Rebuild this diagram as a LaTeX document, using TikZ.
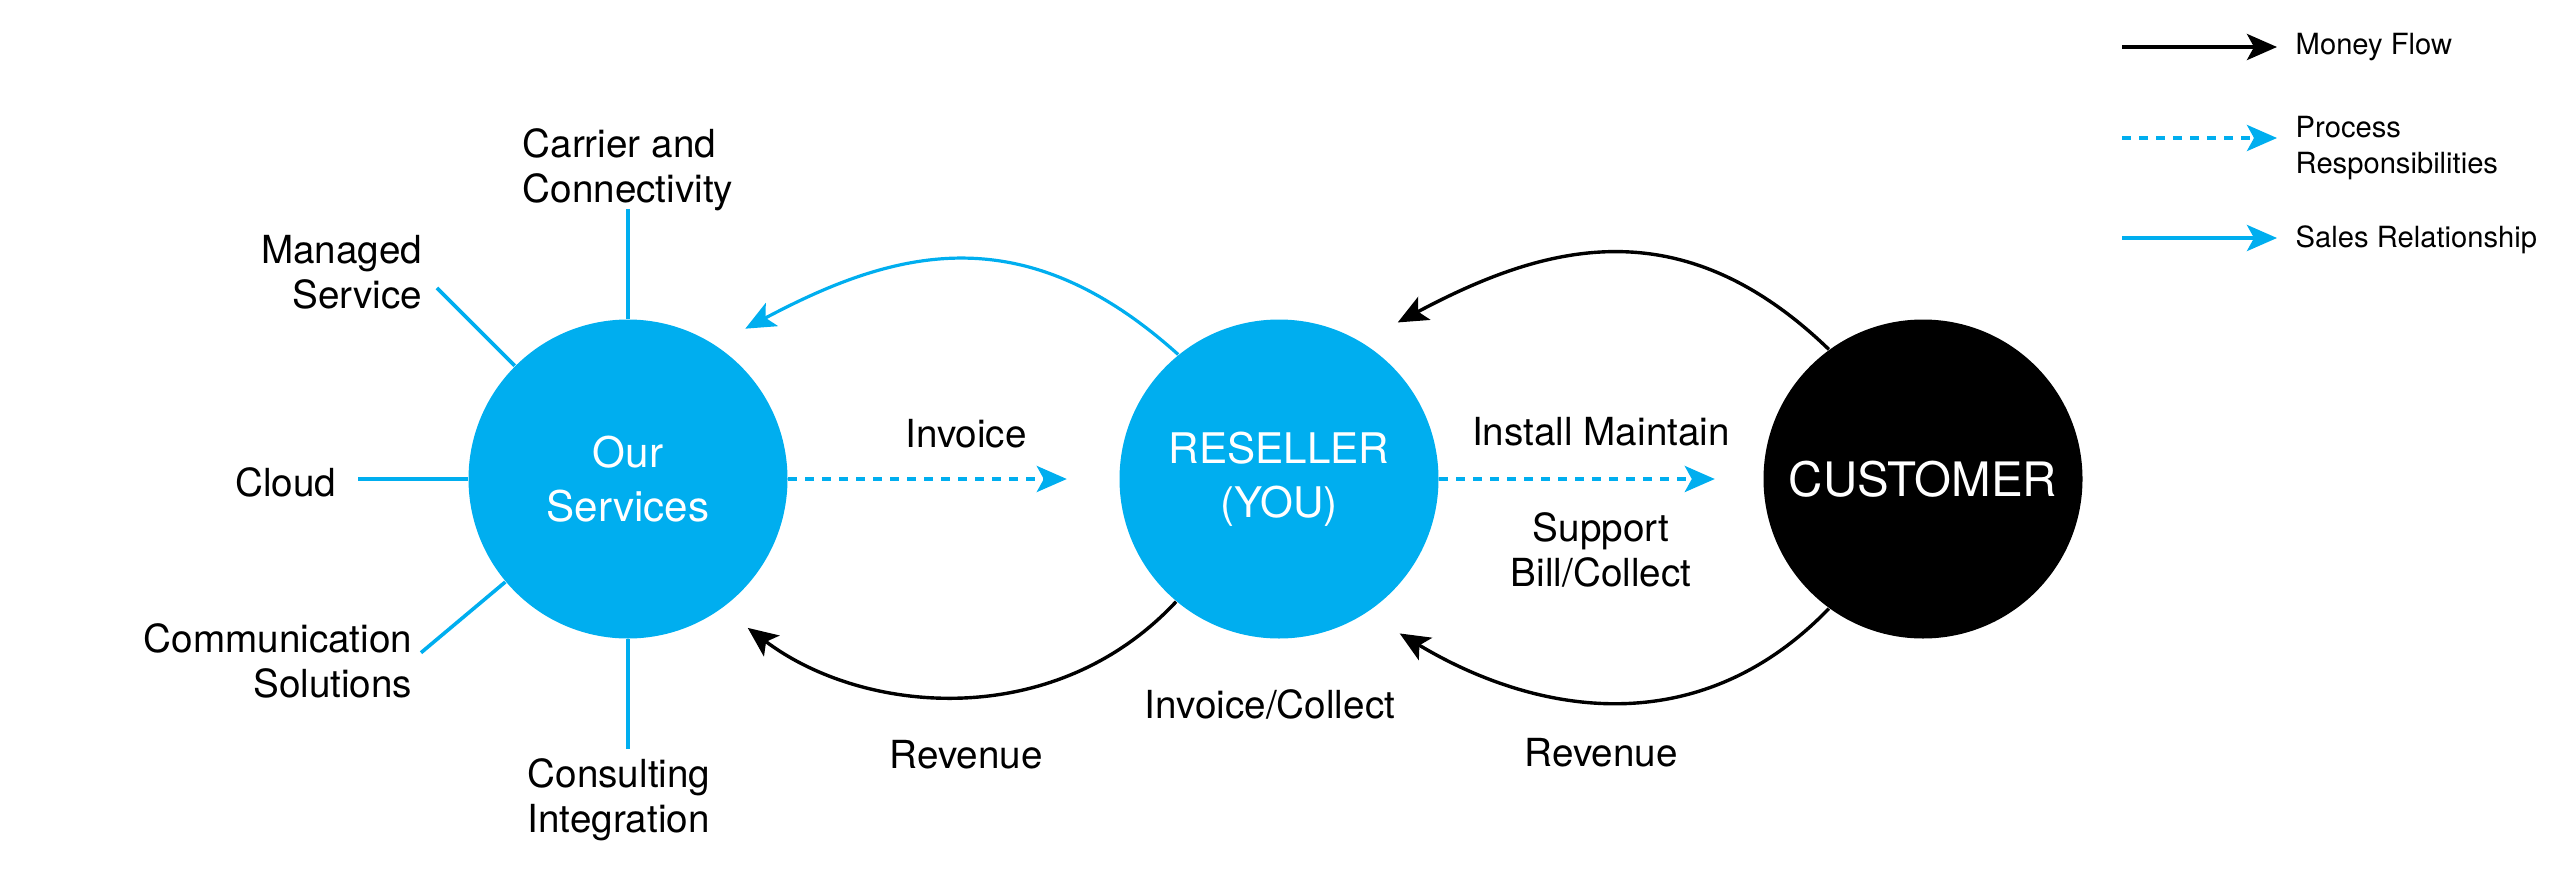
\documentclass[tikz,border=0pt]{standalone}
\usepackage{fontspec}
\setmainfont{TeX Gyre Heros}
\usetikzlibrary{arrows.meta}
\definecolor{svcblue}{HTML}{00AEEF}

\tikzstyle{hub}=[circle,minimum size=31.9mm,inner sep=0pt,align=center,text=white,font=\fontsize{12}{15.3}\selectfont]
\tikzstyle{tag}=[inner sep=0pt,font=\fontsize{11}{12.8}\selectfont]
\tikzstyle{key text}=[inner sep=0pt,anchor=west,align=left,font=\fontsize{8.3}{10.2}\selectfont]
\tikzstyle{spoke}=[draw,svcblue,line width=0.36mm]
\tikzstyle{money}=[draw,line width=0.34mm,-{Stealth[length=3mm,width=2.6mm,inset=0.7mm]}]
\tikzstyle{sales}=[draw,svcblue,line width=0.32mm,-{Stealth[length=3mm,width=2.6mm,inset=0.7mm]}]
\tikzstyle{process}=[draw,svcblue,line width=0.4mm,dash pattern=on 0.85mm off 0.85mm,-{Stealth[length=3mm,width=2.6mm,inset=0.7mm]}]

\begin{document}
\begin{tikzpicture}[x=0.1mm,y=0.1mm]
	\useasboundingbox (0,0) rectangle (2550,-871);
	% the three circles
	\node[hub,fill=svcblue] (svc) at (628,-479) {Our\\Services};
	\node[hub,fill=svcblue] (res) at (1279,-479) {RESELLER\\(YOU)};
	\node[hub,fill=black,font=\fontsize{13.5}{16}\selectfont] (cus) at (1923,-479) {CUSTOMER};
	% spokes round our services
	\foreach \a/\n in {90/cc,135/ms,180/cl,220/cs,270/ci}
		\draw[spoke] (svc.\a) -- ++(\a:110) coordinate (\n);
	\node[tag,anchor=west,align=left] (carrier) at (522,-170) {Carrier and\\Connectivity};
	\node[tag,anchor=east,align=right] (managed) at (423,-272) {Managed\\Service};
	\node[tag,anchor=east] (cloud) at (337,-482) {Cloud};
	\node[tag,anchor=east,align=right] (comm) at (413,-661) {Communication\\Solutions};
	\node[tag,anchor=west,align=left] (consult) at (527,-800) {Consulting\\Integration};
	% flow labels
	\node[tag] (invoice) at (966,-434) {Invoice};
	\node[tag] (install) at (1601,-432) {Install Maintain};
	\node[tag,align=center] (support) at (1601,-550) {Support\\Bill/Collect};
	\node[tag] (collect) at (1270,-704) {Invoice/Collect};
	\node[tag] (rev1) at (966,-755) {Revenue};
	\node[tag] (rev2) at (1601,-753) {Revenue};
	% process arrows
	\draw[process,shorten >=5.2mm] (svc) -- (res);
	\draw[process,shorten >=4.8mm] (res) -- (cus);
	% arcs
	\draw[sales,shorten >=3.4mm] (res.129) to[out=138,in=28,looseness=1.14] (svc.57);
	\draw[money,shorten >=3.2mm] (res.230) to[out=227,in=323,looseness=1.0] (svc.-54);
	\draw[money,shorten >=4.1mm] (cus.126) to[out=136,in=28,looseness=1.13] (res.59);
	\draw[money,shorten >=3.9mm] (cus.234) to[out=226,in=329,looseness=1.06] (res.-57);
	% legend
	\foreach \y/\n in {47/m,138/p,238/s} {
		\coordinate (key\n a) at (2122,-\y);
		\coordinate (key\n b) at (2277,-\y);
	}
	\draw[money,line width=0.4mm] (keyma) -- (keymb);
	\draw[process] (keypa) -- (keypb);
	\draw[sales,line width=0.4mm] (keysa) -- (keysb);
	\node[key text] (keym) at (2295,-47) {Money Flow};
	\node[key text] (keyp) at (2295,-148) {Process\\Responsibilities};
	\node[key text] (keys) at (2295,-240) {Sales Relationship};
\end{tikzpicture}
\end{document}
